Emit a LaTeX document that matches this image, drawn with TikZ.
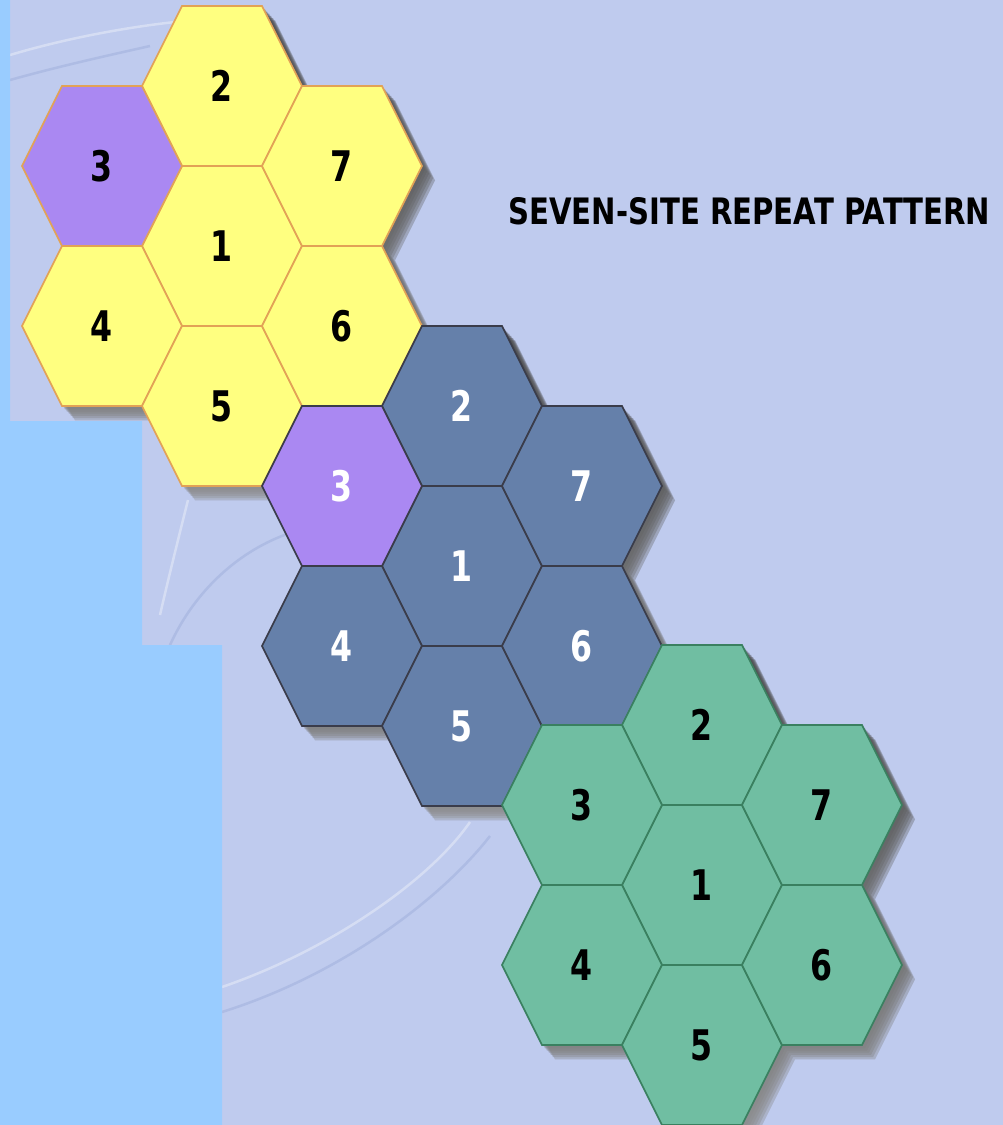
\documentclass[tikz,border=0pt]{standalone}
\usepackage{fontspec}
\setmainfont{DejaVu Sans}
\usepackage{graphicx}
\usetikzlibrary{calc}
\definecolor{paper}{HTML}{BFCBEE}
\definecolor{panel}{HTML}{99CCFF}
\definecolor{sunny}{HTML}{FFFF80}
\definecolor{sunnyrim}{HTML}{E2A256}
\definecolor{lilac}{HTML}{AA88F2}
\definecolor{slate}{HTML}{6580AA}
\definecolor{slaterim}{HTML}{3A3C4A}
\definecolor{mint}{HTML}{70BEA2}
\definecolor{mintrim}{HTML}{3A8060}
\definecolor{shade}{HTML}{22243A}
\definecolor{streak}{HTML}{9AAAD8}
\tikzset{
  cellnum/.style={font=\fontsize{24}{24}\selectfont\bfseries, inner sep=0pt},
  rim/.style={line width=0.35mm, line join=miter},
  glow/.style={draw=white, opacity=0.35, line width=0.5mm},
  dim/.style={draw=streak, opacity=0.45, line width=0.5mm}
}

% one seven-cell cluster: prefix, centre x, centre y, fill, rim, digits, fill of cell 3
\newcommand{\cluster}[7]{%
  % soft shadow, lower right
  \foreach \s in {3,5,7,9,11,13}
    \fill[shade, opacity=0.2] \foreach \dx/\dy in {0/0,0/-160,-120/-80,-120/80,0/160,120/80,120/-80}
      {(#2+\dx-80+\s,#3+\dy+\s*1.1) -- ++(40,-80) -- ++(80,0) -- ++(40,80) -- ++(-40,80) -- ++(-80,0) -- cycle};
  % cells
  \foreach \n/\dx/\dy in {1/0/0,2/0/-160,3/-120/-80,4/-120/80,5/0/160,6/120/80,7/120/-80} {
    \ifnum\n=3 \def\cellfill{#7}\else\def\cellfill{#4}\fi
    \filldraw[fill=\cellfill, draw=#5, rim] (#2+\dx-80,#3+\dy) -- ++(40,-80) -- ++(80,0)
      -- ++(40,80) -- ++(-40,80) -- ++(-80,0) -- cycle;
    \node[cellnum, text=#6] (#1\n) at (#2+\dx,#3+\dy) {\scalebox{0.75}[1]{\n}};
  }%
}

\begin{document}
\begin{tikzpicture}[x=0.2mm,y=-0.2mm]
  \useasboundingbox (0,0) rectangle (1003,1125);

  % textured backdrop
  \fill[paper] (0,0) rectangle (1003,1125);
  \draw[glow] (10,55) .. controls (60,40) and (120,28) .. (175,22);
  \draw[dim] (10,80) .. controls (60,66) and (110,55) .. (150,46);
  \draw[glow] (188,500) .. controls (178,540) and (168,580) .. (160,615);
  \draw[dim] (170,645) .. controls (195,590) and (240,550) .. (290,533);
  \draw[glow] (222,987) .. controls (330,950) and (430,880) .. (470,822);
  \draw[dim] (222,1012) .. controls (340,975) and (440,900) .. (490,836);

  % plain panel on the left
  \fill[panel] (0,0) -- (10,0) -- (10,421) -- (142,421) -- (142,645) -- (222,645)
    -- (222,1125) -- (0,1125) -- cycle;

  % the three clusters
  \cluster{y}{222}{246}{sunny}{sunnyrim}{black}{lilac}
  \cluster{b}{462}{566}{slate}{slaterim}{white}{lilac}
  \cluster{g}{702}{885}{mint}{mintrim}{black}{mint}

  \node[anchor=south west, inner sep=0pt] (title) at (508,225)
    {\resizebox{96.4mm}{5.4mm}{\bfseries SEVEN-SITE REPEAT PATTERN}};
\end{tikzpicture}
\end{document}
